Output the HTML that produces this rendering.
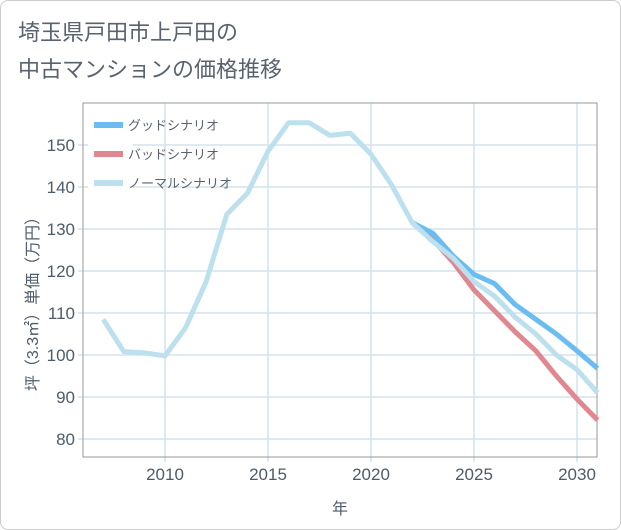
<!DOCTYPE html>
<html><head><meta charset="utf-8"><style>
body{margin:0;background:#fff;font-family:"Liberation Sans","Noto Sans CJK JP",sans-serif}
#wrap{position:relative;width:619px;height:528px;border:1px solid #ccc;border-radius:8px;overflow:hidden}
</style></head><body>
<div id="wrap">
<svg id="c" width="621" height="530" style="position:absolute;left:-1px;top:-1px">
<text x="18" y="40" font-size="22" fill="#5a6270">埼玉県戸田市上戸田の</text>
<text x="18" y="77" font-size="22" fill="#5a6270">中古マンションの価格推移</text>
<g id="grid"></g>
<rect x="83" y="103" width="514" height="354" fill="none" stroke="#999" stroke-width="1"/>
<g id="ticks"></g>
<g id="series"></g>
<text x="340" y="514" font-size="16" fill="#4d5b6b" text-anchor="middle">年</text>
<text transform="translate(38,300) rotate(-90)" font-size="16" fill="#4d5b6b" text-anchor="middle">坪（3.3㎡）単価（万円）</text>
<g id="legend"></g>
</svg>
</div>
<script>
const years=[2007,2008,2009,2010,2011,2012,2013,2014,2015,2016,2017,2018,2019,2020,2021,2022,2023,2024,2025,2026,2027,2028,2029,2030,2031];
const normal=[108.5,100.8,100.5,99.8,106.5,117.5,133.5,138.5,148.5,155.3,155.3,152.3,152.8,147.8,140.5,131.5,127,123,117.5,114,109,105,100,96.5,91];
const futureYears=[2022,2023,2024,2025,2026,2027,2028,2029,2030,2031];
const good=[131.5,129,123.5,119.2,117,112,108.5,105,101,96.8];
const bad=[131.5,127.5,122,115.5,110.5,105.5,101,95,89.5,84.5];
const xTicks=[2010,2015,2020,2025,2030];
const yTicks=[80,90,100,110,120,130,140,150];
const X=y=>165+(y-2010)*20.6;
const Y=v=>439-(v-80)*4.2;
const NS="http://www.w3.org/2000/svg";
function mk(tag,attrs,parent){const e=document.createElementNS(NS,tag);for(const k in attrs)e.setAttribute(k,attrs[k]);parent.appendChild(e);return e;}
const grid=document.getElementById('grid'),ticks=document.getElementById('ticks'),ser=document.getElementById('series'),leg=document.getElementById('legend');
xTicks.forEach(t=>{
 const l=mk('line',{x1:X(t),x2:X(t),y1:103,y2:462,stroke:'#d4e3ee','stroke-width':1.5},grid);
 
 
 const tx=mk('text',{x:X(t),y:480,'font-size':17,fill:'#4d5b6b','text-anchor':'middle'},ticks);
 tx.textContent=t;
 
 
});
yTicks.forEach(t=>{
 const l=mk('line',{x1:78,x2:597,y1:Y(t),y2:Y(t),stroke:'#d4e3ee','stroke-width':1.5},grid);
 
 
 const tx=mk('text',{x:75,y:Y(t)+6,'font-size':17,fill:'#4d5b6b','text-anchor':'end'},ticks);
 tx.textContent=t;
 
 
});
function line(xs,vs,color,name){
 const p=mk('polyline',{points:xs.map((y,i)=>X(y)+','+Y(vs[i])).join(' '),fill:'none',stroke:color,'stroke-width':5,'stroke-linejoin':'round'},ser);
 
 
}
line(futureYears,bad,'#e0878f','bad-scenario-line');
line(futureYears,good,'#6bbcf0','good-scenario-line');
line(years,normal,'#bde0ee','normal-scenario-line');
const lg=[['グッドシナリオ','#6bbcf0'],['バッドシナリオ','#e0878f'],['ノーマルシナリオ','#bde0ee']];
const bg=mk('rect',{x:88,y:113,width:45,height:82,fill:'#fff'},leg);


lg.forEach((d,i)=>{
 const y=125+i*29;
 const g=mk('g',{},leg);
 
 
 mk('rect',{x:94,y:y-3,width:29,height:6,fill:d[1]},g);
 const t=mk('text',{x:128,y:y+5,'font-size':13,fill:'#5a6270'},g);
 t.textContent=d[0];
});
</script>
</body></html>
